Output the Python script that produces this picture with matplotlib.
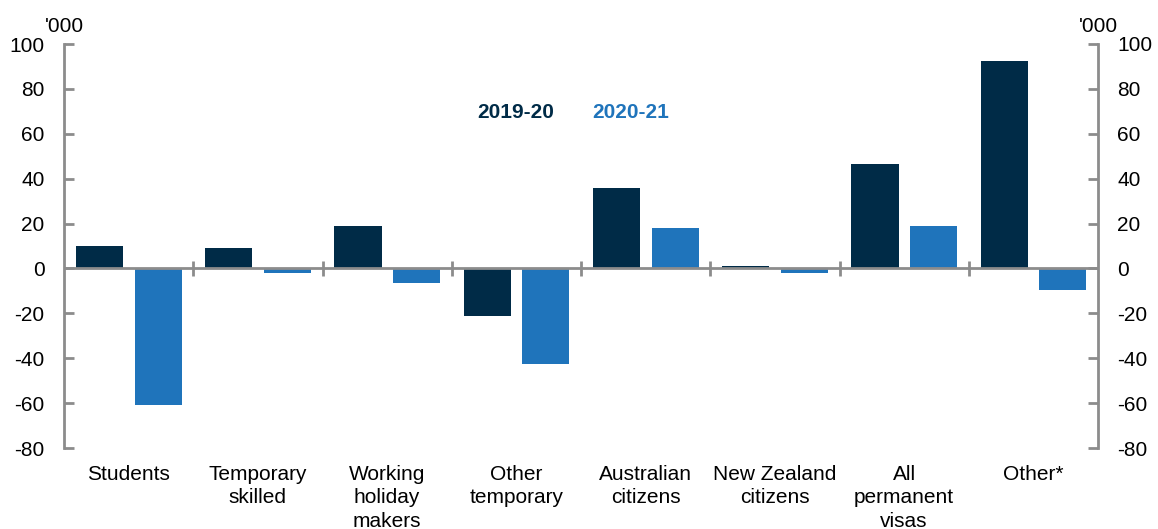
import matplotlib.pyplot as plt
import numpy as np

plt.rcParams['font.family'] = ['Liberation Sans', 'DejaVu Sans']
plt.rcParams['axes.unicode_minus'] = False

categories = ['Students', 'Temporary\nskilled', 'Working\nholiday\nmakers', 'Other\ntemporary',
              'Australian\ncitizens', 'New Zealand\ncitizens', 'All\npermanent\nvisas', 'Other*']
y2019 = [10, 9, 19, -21, 36, 1, 46.5, 92.5]
y2020 = [-61, -2, -6.5, -42.5, 18, -2, 19, -9.5]
yticks = [-80, -60, -40, -20, 0, 20, 40, 60, 80, 100]

DARK = '#002b47'
BLUE = '#1f74bb'
GREY = '#8c8c8c'

fig = plt.figure(figsize=(11.58, 5.29), dpi=100)
ax = fig.add_axes([64/1158, 81/529, (1098-64)/1158, (448-44)/529])

x = np.arange(len(categories))
w = 0.365
ax.bar(x - 0.225, y2019, w, color=DARK, zorder=2)
ax.bar(x + 0.228, y2020, w, color=BLUE, zorder=2)

ax.set_xlim(-0.5, len(categories) - 0.5)
ax.set_ylim(-80, 100)
ax.set_yticks(yticks)
ax.tick_params(axis='y', direction='in', length=7, width=2, color=GREY, labelsize=15, pad=14)
ax.set_xticks(x)
ax.set_xticklabels(categories, fontsize=15, linespacing=1.32, va='top')
ax.tick_params(axis='x', length=0, pad=12)

for s in ['top', 'bottom', 'right']:
    ax.spines[s].set_visible(False)
ax.spines['left'].set_color(GREY)
ax.spines['left'].set_linewidth(2)

ax2 = ax.twinx()
ax2.set_ylim(-80, 100)
ax2.set_yticks(yticks)
ax2.tick_params(axis='y', direction='in', length=7, width=2, color=GREY, labelsize=15, pad=14)
for s in ['top', 'bottom', 'left']:
    ax2.spines[s].set_visible(False)
ax2.spines['right'].set_color(GREY)
ax2.spines['right'].set_linewidth(2)

# zero line with category separators
ax.axhline(0, color=GREY, lw=2, zorder=3)
bounds = np.arange(len(categories) - 1) + 0.5
ax.vlines(bounds, -3.2, 3.2, color=GREY, lw=2, zorder=3)

ax.text(0.0, 1.02, "'000", transform=ax.transAxes, fontsize=15, ha='center', va='bottom')
ax.text(1.0, 1.02, "'000", transform=ax.transAxes, fontsize=15, ha='center', va='bottom')

ax.text(516/1158, 1 - 112/529, '2019-20', transform=fig.transFigure, color=DARK,
        fontsize=15, fontweight='bold', ha='center', va='center')
ax.text(631/1158, 1 - 112/529, '2020-21', transform=fig.transFigure, color=BLUE,
        fontsize=15, fontweight='bold', ha='center', va='center')

fig.savefig('out.png', dpi=100)
